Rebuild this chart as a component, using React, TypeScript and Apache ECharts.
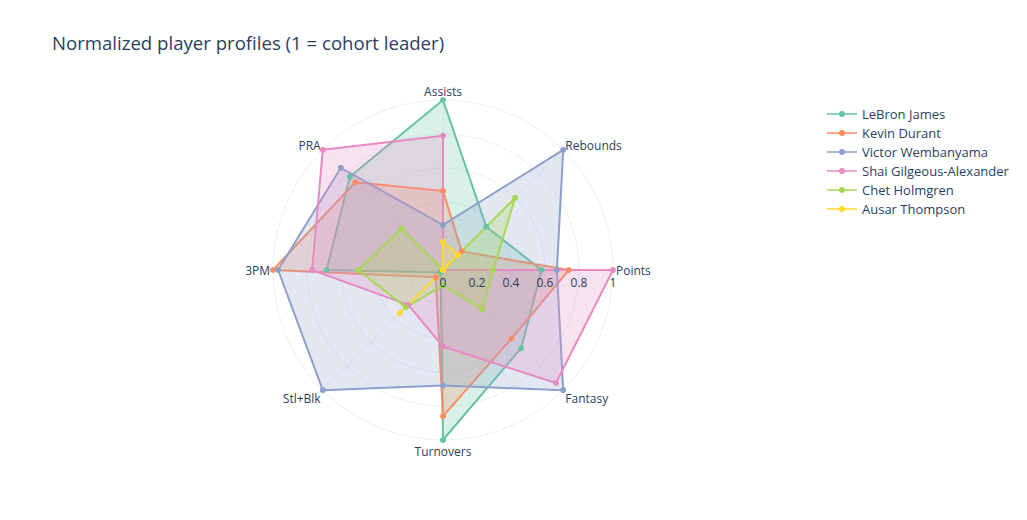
import React, { useEffect, useRef } from "react";
import * as echarts from "echarts";

const axesNames = ["Points", "Rebounds", "Assists", "PRA", "3PM", "Stl+Blk", "Turnovers", "Fantasy"];
const players = ["LeBron James", "Kevin Durant", "Victor Wembanyama", "Shai Gilgeous-Alexander", "Chet Holmgren", "Ausar Thompson"];
const colors = ["#66c2a5", "#fc8d62", "#8da0cb", "#e78ac3", "#a6d854", "#ffd92f"];

const lebron = [0.58, 0.36, 1.0, 0.775, 0.685, 0.02, 1.0, 0.65];
const durant = [0.74, 0.155, 0.465, 0.73, 1.0, 0.06, 0.86, 0.57];
const wemby = [0.67, 1.0, 0.265, 0.85, 0.97, 1.0, 0.68, 1.0];
const shai = [1.0, 0.0, 0.79, 1.0, 0.77, 0.29, 0.45, 0.94];
const chet = [0.295, 0.6, 0.0, 0.345, 0.5, 0.31, 0.09, 0.325];
const ausar = [0.0, 0.125, 0.165, 0.0, 0.0, 0.36, 0.0, 0.0];

const seriesValues = [lebron, durant, wemby, shai, chet, ausar];

const FONT = '"Open Sans", verdana, arial, sans-serif';
const TXT = "#2a3f5f";
const GRID = "#ebf0f8";

const nameStyleKey: Record<string, string> = {
  Points: "n",
  Rebounds: "up",
  Assists: "n",
  PRA: "up",
  "3PM": "n",
  "Stl+Blk": "down",
  Turnovers: "bottom",
  Fantasy: "down",
};

export default function App() {
  const ref = useRef<HTMLDivElement>(null);
  useEffect(() => {
    if (!ref.current) return;
    const chart = echarts.init(ref.current, undefined, { renderer: "svg" });
    const baseText = { color: TXT, fontSize: 12, fontFamily: FONT };
    const indicator = axesNames.map((n) => ({ name: n, min: 0, max: 1 }));
    const labelIndicator = axesNames.map((n, i) => {
      const o: any = { name: n, min: 0, max: 1 };
      if (i === 0) {
        o.axisLabel = { show: true, ...baseText, margin: -18 };
      }
      return o;
    });
    chart.setOption({
      animation: false,
      backgroundColor: "#fff",
      textStyle: { fontFamily: FONT },
      title: {
        text: "Normalized player profiles (1 = cohort leader)",
        left: 52,
        top: 33,
        padding: 0,
        textStyle: { fontSize: 18.6, fontWeight: "normal", color: TXT, fontFamily: FONT },
      },
      legend: {
        orient: "vertical",
        left: 822,
        top: 102,
        itemWidth: 30,
        itemHeight: 6,
        itemGap: 5,
        icon: "path://M0,2.2H30V3.8H0Z M15,0A3,3 0 1,1 15,6A3,3 0 1,1 15,0Z",
        data: players,
        textStyle: { color: TXT, fontSize: 13, fontFamily: FONT, lineHeight: 14 },
      },
      radar: [
        {
          center: [443, 270],
          radius: 170,
          startAngle: 0,
          shape: "circle",
          splitNumber: 5,
          indicator,
          axisName: {
            ...baseText,
            formatter: (name: string) => `{${nameStyleKey[name] || "n"}|${name}}`,
            rich: {
              n: { ...baseText },
              up: { ...baseText, padding: [0, 0, 4, 0] },
              down: { ...baseText, padding: [12, 0, 0, 0] },
              bottom: { ...baseText, padding: [2, 0, 0, 0] },
            },
          },
          nameGap: 3,
          axisLine: { lineStyle: { color: GRID, width: 1 } },
          splitLine: { lineStyle: { color: GRID, width: 1 } },
          splitArea: { show: false },
          axisTick: { show: false },
          axisLabel: { show: false },
        },
        {
          z: 10,
          center: [443, 270],
          radius: 170,
          startAngle: 0,
          shape: "circle",
          splitNumber: 5,
          indicator: labelIndicator,
          axisName: { show: false },
          axisLine: { show: false },
          splitLine: { show: false },
          splitArea: { show: false },
          axisTick: { show: false },
          axisLabel: { show: false },
        },
      ],
      series: [
        {
          type: "radar",
          radarIndex: 0,
          symbol: "circle",
          symbolSize: 6,
          data: players.map((p, i) => ({
            name: p,
            value: seriesValues[i],
            itemStyle: { color: colors[i] },
            lineStyle: { color: colors[i], width: 2 },
            areaStyle: { color: colors[i], opacity: 0.25 },
          })),
        },
      ],
    });
    return () => chart.dispose();
  }, []);
  return (
    <div
      ref={ref}
      style={{ position: "fixed", left: 0, top: 0, width: 1027, height: 520 }}
    />
  );
}
